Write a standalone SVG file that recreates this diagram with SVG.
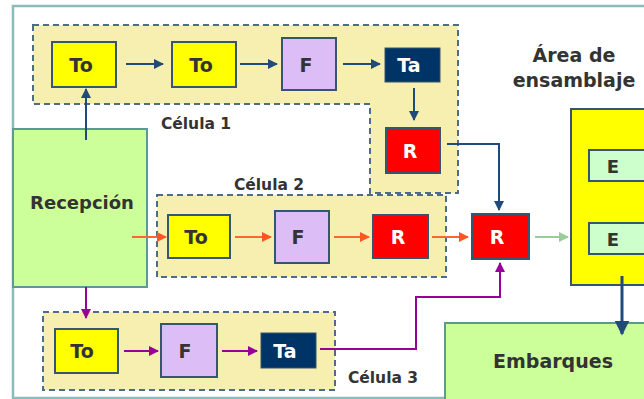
<svg xmlns="http://www.w3.org/2000/svg" width="644" height="399" viewBox="0 0 644 399">
<defs>
<style>
.t{font-family:"DejaVu Sans",Verdana,sans-serif;font-weight:bold;fill:#333;text-anchor:middle;dominant-baseline:central}
.w{fill:#fff}
.cell{fill:#f6efb0;stroke:#4d6c8a;stroke-width:2;stroke-dasharray:6 4}
.yel{fill:#ffff00;stroke:#36556f;stroke-width:2}
.lav{fill:#ddbdf5;stroke:#36556f;stroke-width:2}
.navy{fill:#003366;stroke:#36556f;stroke-width:1}
.red{fill:#ff0000;stroke:#36556f;stroke-width:2}
.grn{fill:#ccff99;stroke:#5a9a92;stroke-width:2}
.eb{fill:#ccffcc;stroke:#36556f;stroke-width:2}
.cb{stroke:#1f4a7a;stroke-width:2;fill:none}
.co{stroke:#ff6633;stroke-width:2;fill:none}
.cp{stroke:#990099;stroke-width:2;fill:none}
.cg{stroke:#99cc99;stroke-width:2;fill:none}
</style>
<marker id="ab" viewBox="0 0 10 10" refX="9" refY="5" markerWidth="5" markerHeight="5" orient="auto"><path d="M0,0L10,5L0,10z" fill="#1f4a7a"/></marker>
<marker id="ao" viewBox="0 0 10 10" refX="9" refY="5" markerWidth="5" markerHeight="5" orient="auto"><path d="M0,0L10,5L0,10z" fill="#ff5522"/></marker>
<marker id="ap" viewBox="0 0 10 10" refX="9" refY="5" markerWidth="5" markerHeight="5" orient="auto"><path d="M0,0L10,5L0,10z" fill="#990099"/></marker>
<marker id="ag" viewBox="0 0 10 10" refX="9" refY="5" markerWidth="5" markerHeight="5" orient="auto"><path d="M0,0L10,5L0,10z" fill="#99cc99"/></marker>
</defs>
<rect x="0" y="0" width="644" height="399" fill="#fff"/>
<rect id="frame" x="13" y="6" width="640" height="392" fill="none" stroke="#8abcbc" stroke-width="2.5"/>

<g id="celula1">
<path class="cell" d="M33,25H458V193H370V104H33Z"/>
<text class="t" x="196" y="124" font-size="15.5">Célula 1</text>
</g>
<g id="celula2">
<rect class="cell" x="157" y="195" width="289" height="82"/>
<text class="t" x="269" y="185" font-size="15.5">Célula 2</text>
</g>
<g id="celula3">
<rect class="cell" x="43" y="312" width="292" height="78"/>
<text class="t" x="383" y="378" font-size="15.5">Célula 3</text>
</g>

<g id="recepcion"><rect class="grn" x="13" y="129" width="134" height="158"/><text class="t" x="82" y="202" font-size="18">Recepción</text></g>
<g id="ensamblaje"><rect class="yel" x="571" y="109" width="90" height="176"/></g>
<g id="area-label"><text class="t" x="574" y="55" font-size="19">Área de</text><text class="t" x="574" y="80" font-size="19">ensamblaje</text></g>
<g id="e1"><rect class="eb" x="589" y="150" width="70" height="31"/><text class="t" x="613" y="166" font-size="18">E</text></g>
<g id="e2"><rect class="eb" x="589" y="223" width="70" height="31"/><text class="t" x="613" y="239" font-size="18">E</text></g>
<g id="embarques"><rect class="grn" x="445" y="323" width="220" height="90"/><text class="t" x="553" y="361" font-size="19">Embarques</text></g>

<g id="c1-to1"><rect class="yel" x="52" y="42" width="64" height="45"/><text class="t" x="81" y="65" font-size="19">To</text></g>
<g id="c1-to2"><rect class="yel" x="172" y="42" width="64" height="45"/><text class="t" x="201" y="65" font-size="19">To</text></g>
<g id="c1-f"><rect class="lav" x="282" y="38" width="54" height="52"/><text class="t" x="306" y="65" font-size="19">F</text></g>
<g id="c1-ta"><rect class="navy" x="385" y="48" width="55" height="34"/><text class="t w" x="409" y="65" font-size="19">Ta</text></g>
<g id="c1-r"><rect class="red" x="386" y="128" width="54" height="45"/><text class="t w" x="410" y="151" font-size="19">R</text></g>

<g id="c2-to"><rect class="yel" x="168" y="215" width="62" height="43"/><text class="t" x="196" y="237" font-size="19">To</text></g>
<g id="c2-f"><rect class="lav" x="275" y="211" width="54" height="52"/><text class="t" x="298" y="237" font-size="19">F</text></g>
<g id="c2-r"><rect class="red" x="373" y="215" width="55" height="43"/><text class="t w" x="398" y="237" font-size="19">R</text></g>

<g id="r-central"><rect class="red" x="472" y="214" width="57" height="45"/><text class="t w" x="497" y="237" font-size="19">R</text></g>

<g id="c3-to"><rect class="yel" x="55" y="329" width="63" height="44"/><text class="t" x="82" y="351" font-size="19">To</text></g>
<g id="c3-f"><rect class="lav" x="161" y="324" width="56" height="53"/><text class="t" x="185" y="351" font-size="19">F</text></g>
<g id="c3-ta"><rect class="navy" x="261" y="333" width="55" height="35"/><text class="t w" x="285" y="351" font-size="19">Ta</text></g>

<g id="connectors">
<path class="cb" d="M86,140V89" marker-end="url(#ab)"/>
<path class="cb" d="M126,64H163" marker-end="url(#ab)"/>
<path class="cb" d="M240,64H277" marker-end="url(#ab)"/>
<path class="cb" d="M343,64H380" marker-end="url(#ab)"/>
<path class="cb" d="M414,88V120" marker-end="url(#ab)"/>
<path class="cb" d="M447,144H499V210" marker-end="url(#ab)"/>
<path class="co" d="M132,237H166" marker-end="url(#ao)"/>
<path class="co" d="M235,237H271" marker-end="url(#ao)"/>
<path class="co" d="M334,237H369" marker-end="url(#ao)"/>
<path class="co" d="M432,237H468" marker-end="url(#ao)"/>
<path class="cg" d="M535,237H568" marker-end="url(#ag)"/>
<path class="cp" d="M86,287V318" marker-end="url(#ap)"/>
<path class="cp" d="M124,351H158" marker-end="url(#ap)"/>
<path class="cp" d="M222,351H257" marker-end="url(#ap)"/>
<path class="cp" d="M320,349H416V297H500V263" marker-end="url(#ap)"/>
<path d="M622,276V334" stroke="#1f4a7a" stroke-width="3" fill="none" marker-end="url(#ab)"/>
</g>
</svg>
